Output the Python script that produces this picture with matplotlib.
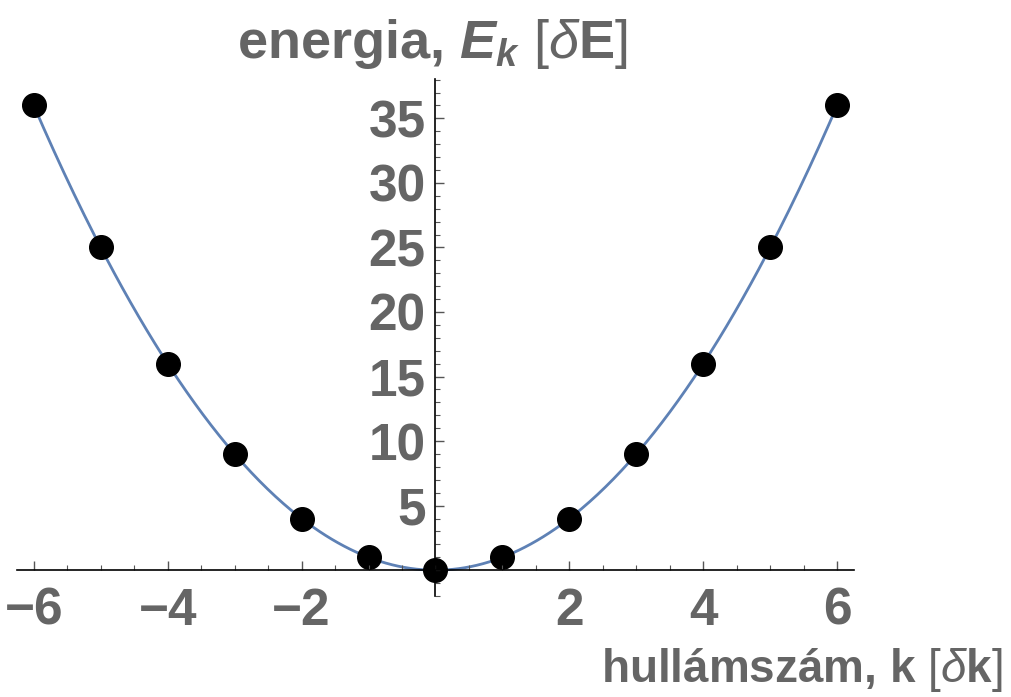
"""
Dispersion E_k = k^2 sampled on the integer wave numbers, with the
continuous parabola drawn through the samples.
"""

import numpy as np
import matplotlib
matplotlib.use('Agg')
import matplotlib.pyplot as plt
from matplotlib.ticker import MultipleLocator, FixedLocator

# Sampled wave numbers and energies
k_values = [-6, -5, -4, -3, -2, -1, 0, 1, 2, 3, 4, 5, 6]
energy_values = [36, 25, 16, 9, 4, 1, 0, 1, 4, 9, 16, 25, 36]

x_ticks = [-6, -4, -2, 2, 4, 6]
y_ticks = [5, 10, 15, 20, 25, 30, 35]

TEXT_GRAY = '#656565'
CURVE_BLUE = '#5e81b5'

plt.rcParams['font.family'] = ['Liberation Sans', 'DejaVu Sans']
plt.rcParams['mathtext.fontset'] = 'custom'
plt.rcParams['mathtext.rm'] = 'Liberation Sans:bold'
plt.rcParams['mathtext.bf'] = 'Liberation Sans:bold'
plt.rcParams['mathtext.it'] = 'Liberation Sans:italic:bold'
plt.rcParams['mathtext.sf'] = 'Liberation Sans'
plt.rcParams['mathtext.cal'] = 'Liberation Sans:italic'


def main():
    fig = plt.figure(figsize=(10.12, 6.97), dpi=100)
    ax = fig.add_axes([0.0168, 0.1449, 0.827, 0.7418])

    # smooth curve: quadratic through the sampled points
    coeffs = np.polyfit(k_values, energy_values, 2)
    k_fine = np.linspace(min(k_values), max(k_values), 400)
    ax.plot(k_fine, np.polyval(coeffs, k_fine), color=CURVE_BLUE, lw=2, zorder=1)

    ax.plot(k_values, energy_values, 'o', color='black', ms=17, zorder=2, clip_on=False)

    ax.set_xlim(-6.25, 6.25)
    ax.set_ylim(-2.0, 38.05)

    # axes crossing at the origin
    for side in ['top', 'right']:
        ax.spines[side].set_visible(False)
    ax.spines['left'].set_position(('data', 0))
    ax.spines['bottom'].set_position(('data', 0))
    for side in ['left', 'bottom']:
        ax.spines[side].set_linewidth(1.2)
        ax.spines[side].set_color('black')
        ax.spines[side].set_zorder(3)

    ax.xaxis.set_major_locator(FixedLocator(x_ticks))
    ax.xaxis.set_minor_locator(MultipleLocator(0.5))
    ax.yaxis.set_major_locator(FixedLocator(y_ticks))
    ax.yaxis.set_minor_locator(MultipleLocator(1))

    ax.tick_params(axis='both', which='both', direction='in', color='#555555',
                   labelcolor=TEXT_GRAY, labelsize=37)
    ax.tick_params(axis='both', which='major', length=6.5, width=1)
    ax.tick_params(axis='both', which='minor', length=3.6, width=0.8)
    ax.tick_params(axis='x', which='major', pad=12)
    ax.tick_params(axis='y', which='major', pad=7)
    ax.set_axisbelow(False)

    for lbl in ax.get_xticklabels() + ax.get_yticklabels():
        lbl.set_fontweight('bold')

    # axis titles: bold words, thin brackets and slanted delta
    fig.text(0.4274, 1 - 58 / 697,
             r'energia, $\mathit{E}_{\mathit{k}}$ $\mathsf{[}\mathcal{δ}$E$\mathsf{]}$',
             ha='center', va='baseline', fontsize=39, fontweight='bold', color=TEXT_GRAY)
    fig.text(1002 / 1012, 1 - 682 / 697,
             r'hullámszám, k $\mathsf{[}\mathcal{δ}$k$\mathsf{]}$',
             ha='right', va='baseline', fontsize=33, fontweight='bold', color=TEXT_GRAY)

    fig.savefig('out.png', dpi=100)
    plt.close(fig)


if __name__ == '__main__':
    main()
